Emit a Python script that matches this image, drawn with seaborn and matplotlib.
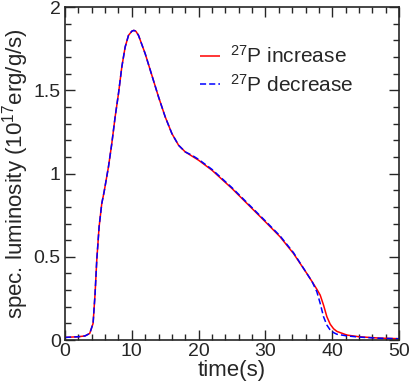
import numpy as np
import pandas as pd
import matplotlib
matplotlib.use("Agg")
import matplotlib.pyplot as plt
import seaborn as sns
from matplotlib.ticker import MultipleLocator, FormatStrFormatter

# light curves (time in s, luminosity in 1e17 erg/g/s)
t = [0, 2, 3, 3.7, 4.2, 4.5, 4.75, 5.1, 5.5, 5.85, 6.5, 7, 7.5, 8, 8.5, 9,
     9.5, 10, 10.3, 10.6, 11, 12, 13, 14, 15, 16, 17, 18, 19, 20, 22, 25, 28,
     30, 32.2, 34.2, 36.2, 37, 37.7, 38.2, 38.7, 39.2, 39.7, 40.2, 40.7,
     42.2, 44, 47, 50]
lum_inc = [0.016, 0.02, 0.025, 0.04, 0.1, 0.28, 0.48, 0.68, 0.82, 0.89,
           1.04, 1.18, 1.34, 1.48, 1.64, 1.76, 1.83, 1.855, 1.86, 1.855, 1.83,
           1.72, 1.59, 1.46, 1.34, 1.24, 1.17, 1.13, 1.105, 1.08, 1.02, 0.91,
           0.79, 0.71, 0.62, 0.52, 0.4, 0.35, 0.305, 0.27, 0.21, 0.14, 0.095,
           0.068, 0.052, 0.03, 0.02, 0.012, 0.008]
lum_dec = [0.016, 0.02, 0.025, 0.04, 0.1, 0.28, 0.48, 0.68, 0.82, 0.89,
           1.04, 1.18, 1.34, 1.48, 1.64, 1.76, 1.83, 1.855, 1.86, 1.855, 1.83,
           1.72, 1.59, 1.46, 1.34, 1.24, 1.17, 1.13, 1.11, 1.085, 1.025,
           0.915, 0.795, 0.715, 0.625, 0.525, 0.4, 0.35, 0.29, 0.22, 0.14,
           0.09, 0.06, 0.045, 0.035, 0.025, 0.018, 0.011, 0.008]
labels = ["$^{27}$P increase", "$^{27}$P decrease"]

sns.set_style("ticks")
plt.rcParams["font.family"] = ["Liberation Sans", "DejaVu Sans"]
plt.rcParams["mathtext.default"] = "regular"

df = pd.concat([
    pd.DataFrame({"t": t, "L": lum_inc, "case": labels[0]}),
    pd.DataFrame({"t": t, "L": lum_dec, "case": labels[1]}),
])

fig = plt.figure(figsize=(4.09, 3.86), dpi=100)
ax = fig.add_axes([0.159, 0.119, 0.8166, 0.8627])
sns.lineplot(data=df, x="t", y="L", hue="case", style="case",
             palette=["red", "blue"], dashes=[(1, 0), (4, 2)],
             linewidth=1.1, ax=ax)

ax.set_xlim(0, 50)
ax.set_ylim(0, 2)
ax.xaxis.set_major_locator(MultipleLocator(10))
ax.xaxis.set_minor_locator(MultipleLocator(2))
ax.yaxis.set_major_locator(MultipleLocator(0.5))
ax.yaxis.set_minor_locator(MultipleLocator(0.1))
ax.yaxis.set_major_formatter(FormatStrFormatter("%g"))
ax.tick_params(which="both", direction="in", top=True, right=True,
               labelsize=14, width=1, pad=2)
ax.tick_params(axis="y", which="major", pad=3)
ax.tick_params(which="major", length=7)
ax.tick_params(which="minor", length=4)
for s in ax.spines.values():
    s.set_linewidth(1.2)

ax.set_xlabel("time(s)", fontsize=16, labelpad=0)
ax.set_ylabel("spec. luminosity (10$^{17}$erg/g/s)", fontsize=16, labelpad=2)

leg = ax.legend(loc="upper left", bbox_to_anchor=(0.378, 0.91), frameon=False,
                fontsize=15, handlelength=1.0, handletextpad=0.45,
                labelspacing=0.3, borderaxespad=0)
for h in leg.get_lines():
    h.set_linewidth(1.1)

fig.savefig("out.png", dpi=100)
